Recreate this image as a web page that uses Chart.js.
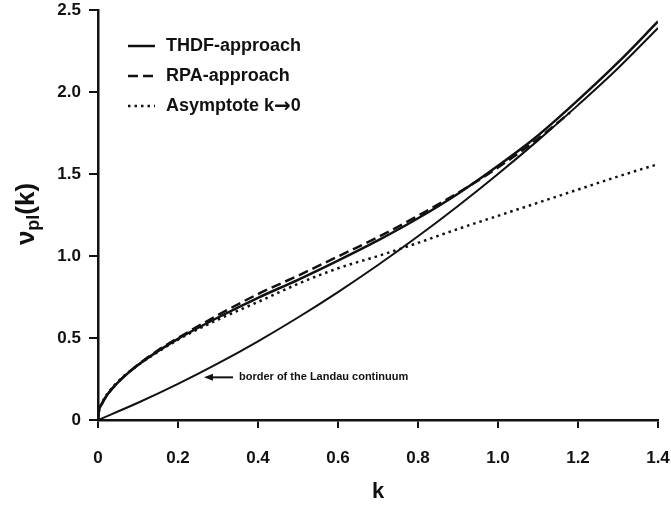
<!DOCTYPE html>
<html>
<head>
<meta charset="utf-8">
<script src="https://cdn.jsdelivr.net/npm/chart.js@4/dist/chart.umd.min.js"></script>
<style>
  body { margin: 0; background: #fff; }
</style>
</head>
<body>
<canvas id="c" width="671" height="507"></canvas>
<script>
// values
const kMain = [0, 0.002, 0.01, 0.025, 0.05, 0.1, 0.15, 0.2, 0.3, 0.4, 0.5, 0.6, 0.7, 0.8, 0.9, 1.0, 1.1, 1.2, 1.3, 1.4]
const thdf = [0, 0.05, 0.1, 0.16, 0.23, 0.335, 0.42, 0.495, 0.625, 0.745, 0.855, 0.972, 1.095, 1.23, 1.38, 1.55, 1.735, 1.95, 2.18, 2.43]
const asymptote = [0, 0.047, 0.105, 0.165, 0.235, 0.335, 0.415, 0.49, 0.612, 0.72, 0.83, 0.925, 1.0, 1.08, 1.165, 1.245, 1.325, 1.405, 1.485, 1.56]

const kRpa = [0, 0.002, 0.01, 0.025, 0.05, 0.1, 0.15, 0.2, 0.3, 0.4, 0.5, 0.6, 0.7, 0.8, 0.9, 1.0, 1.1, 1.18]
const rpa = [0, 0.05, 0.1, 0.16, 0.23, 0.337, 0.425, 0.5, 0.64, 0.768, 0.88, 0.997, 1.115, 1.245, 1.385, 1.54, 1.715, 1.875]

const kLandau = [0, 0.1, 0.2, 0.3, 0.4, 0.5, 0.6, 0.7, 0.8, 0.9, 1.0, 1.1, 1.2, 1.3, 1.4]
const landau = [0, 0.105, 0.22, 0.345, 0.48, 0.625, 0.78, 0.945, 1.12, 1.305, 1.5, 1.705, 1.92, 2.145, 2.39]

const xTicks = [0, 0.2, 0.4, 0.6, 0.8, 1.0, 1.2, 1.4]
const yTicks = [0, 0.5, 1.0, 1.5, 2.0, 2.5]

// each legend label is drawn in pieces so the arrow can use a font that has a heavy glyph
const legendLabels = [['THDF-approach'], ['RPA-approach'], ['Asymptote k', '\u2192', '0']]
const annotationText = 'border of the Landau continuum'
const arrowTip = { k: 0.265, v: 0.26 }

const FONT = '"Liberation Sans", Arial, sans-serif'

const pts = (xs, ys) => xs.map((x, i) => ({ x, y: ys[i] }))
const fmt = v => (v === 0 ? '0' : v.toFixed(1))

const SOLID = []
const DASH = [10, 5]
const DOT = [2.5, 4]

const overlay = {
  id: 'overlay',
  afterDraw (chart) {
    const { ctx, scales: { x, y } } = chart
    ctx.save()
    ctx.fillStyle = '#111'
    ctx.strokeStyle = '#111'

    // legend
    const styles = [SOLID, DASH, DOT]
    ctx.textBaseline = 'middle'
    legendLabels.forEach((parts, i) => {
      const ly = 46 + i * 30
      ctx.lineWidth = 2.5
      ctx.setLineDash(styles[i])
      ctx.beginPath()
      ctx.moveTo(128, ly)
      ctx.lineTo(155, ly)
      ctx.stroke()
      ctx.setLineDash([])
      let lx = 166
      parts.forEach(p => {
        const isArrow = p === '\u2192'
        ctx.font = isArrow ? 'bold 20px "DejaVu Sans", sans-serif' : 'bold 18px ' + FONT
        ctx.fillText(p, lx, isArrow ? ly + 1 : ly)
        lx += ctx.measureText(p).width
      })
    })

    // arrow + note
    const tx = x.getPixelForValue(arrowTip.k)
    const ty = y.getPixelForValue(arrowTip.v)
    ctx.lineWidth = 2
    ctx.beginPath()
    ctx.moveTo(tx + 6, ty)
    ctx.lineTo(tx + 29, ty)
    ctx.stroke()
    ctx.beginPath()
    ctx.moveTo(tx, ty)
    ctx.lineTo(tx + 9, ty - 3.5)
    ctx.lineTo(tx + 9, ty + 3.5)
    ctx.closePath()
    ctx.fill()
    ctx.font = 'bold 11px ' + FONT
    ctx.fillText(annotationText, tx + 35, ty)

    // axis titles
    ctx.textAlign = 'center'
    ctx.font = 'bold 22px ' + FONT
    ctx.fillText('k', (x.left + x.right) / 2, 492)

    ctx.translate(27, 214)
    ctx.rotate(-Math.PI / 2)
    ctx.textAlign = 'left'
    const big = 'bold 26px ' + FONT
    const small = 'bold 18px ' + FONT
    ctx.font = big
    const w1 = ctx.measureText('\u03bd').width
    const w3 = ctx.measureText('(k)').width
    ctx.font = small
    const w2 = ctx.measureText('pl').width
    let px = -(w1 + w2 + w3) / 2
    ctx.font = big
    ctx.fillText('\u03bd', px, 0)
    px += w1
    ctx.font = small
    ctx.fillText('pl', px, 7)
    px += w2
    ctx.font = big
    ctx.fillText('(k)', px, 0)
    ctx.restore()
  }
}

const line = (data, dash, width) => ({
  data,
  borderColor: '#111',
  borderWidth: width,
  borderDash: dash,
  borderCapStyle: 'butt',
  pointRadius: 0,
  fill: false,
  cubicInterpolationMode: 'monotone'
})

new Chart(document.getElementById('c'), {
  type: 'line',
  data: {
    datasets: [
      line(pts(kLandau, landau), SOLID, 2),
      line(pts(kMain, asymptote), DOT, 2.5),
      line(pts(kRpa, rpa), DASH, 2.5),
      line(pts(kMain, thdf), SOLID, 2.5)
    ]
  },
  options: {
    responsive: false,
    animation: false,
    devicePixelRatio: 1,
    layout: { padding: { top: 10, right: 13, left: 0, bottom: 0 } },
    plugins: {
      legend: { display: false },
      tooltip: { enabled: false }
    },
    scales: {
      x: {
        type: 'linear',
        min: 0,
        max: 1.4,
        afterFit: s => { s.height = 87; s.paddingLeft = 0; s.paddingRight = 0 },
        afterBuildTicks: s => { s.ticks = xTicks.map(value => ({ value })) },
        border: { display: true, color: '#111', width: 2.5 },
        grid: { drawOnChartArea: false, drawTicks: true, tickLength: 8, color: '#111', lineWidth: 2 },
        ticks: {
          color: '#111',
          padding: 20,
          maxRotation: 0,
          font: { family: FONT, size: 17, weight: 'bold' },
          callback: v => fmt(v)
        }
      },
      y: {
        min: 0,
        max: 2.5,
        afterFit: s => { s.width = 98; s.paddingTop = 0; s.paddingBottom = 0 },
        afterBuildTicks: s => { s.ticks = yTicks.map(value => ({ value })) },
        border: { display: true, color: '#111', width: 2.5 },
        grid: { drawOnChartArea: false, drawTicks: true, tickLength: 9, color: '#111', lineWidth: 2 },
        ticks: {
          color: '#111',
          padding: 8,
          font: { family: FONT, size: 17, weight: 'bold' },
          callback: v => fmt(v)
        }
      }
    }
  },
  plugins: [overlay]
})
</script>
</body>
</html>
